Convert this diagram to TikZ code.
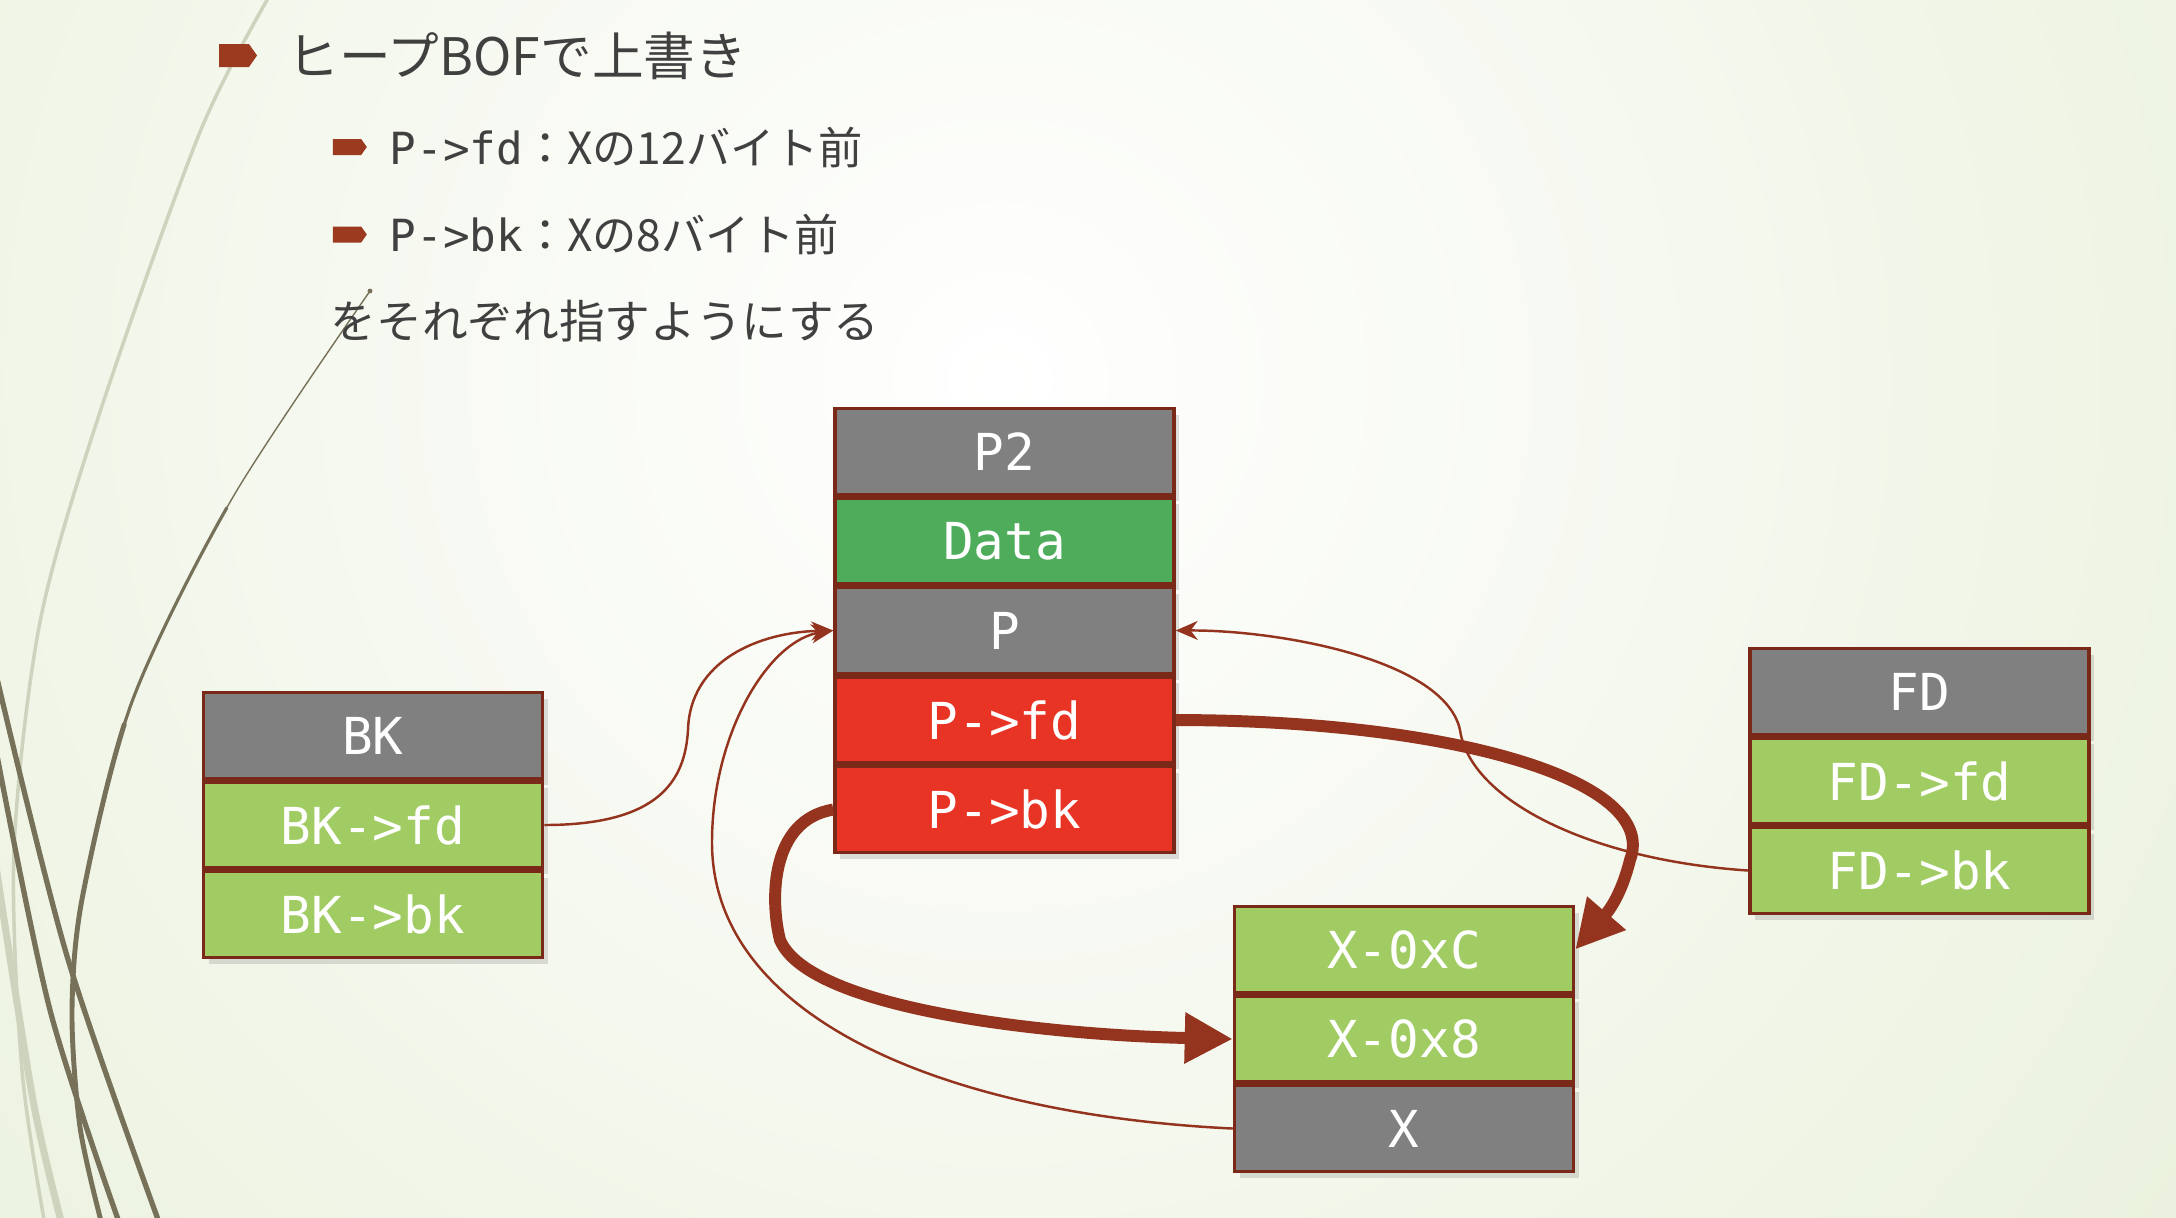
\documentclass[tikz,border=0pt]{standalone}
\usepackage{fontspec}
\newfontfamily\jpfont{Noto Sans CJK JP}
\newfontfamily\cellfont{DejaVu Sans Mono}
\usetikzlibrary{positioning,arrows.meta,shapes.symbols,shadows}
\definecolor{bgout}{RGB}{224,234,204}
\definecolor{deco}{RGB}{118,113,88}
\definecolor{decolt}{RGB}{206,211,190}
\definecolor{cellborder}{RGB}{122,40,24}
\definecolor{linkcol}{RGB}{148,52,30}
\definecolor{bulcol}{RGB}{155,58,30}
\definecolor{txtcol}{RGB}{64,64,64}
\definecolor{cgray}{RGB}{128,128,128}
\definecolor{cdata}{RGB}{78,172,91}
\definecolor{clime}{RGB}{160,204,99}
\definecolor{cred}{RGB}{232,52,36}
\tikzset{
  cell/.style={draw=cellborder,line width=1pt,minimum width=3.39cm,minimum height=.86cm,
    inner sep=0pt,text=white,font=\cellfont\fontsize{14.5}{16}\selectfont,
    drop shadow={shadow xshift=.05cm,shadow yshift=-.06cm,opacity=.25}},
  bulmark/.style={shape=signal,signal to=east,signal pointer angle=110,fill=bulcol,inner sep=0pt},
  line1/.style={anchor=west,text=txtcol,inner sep=0pt,font=\jpfont\fontsize{14.7}{18}\selectfont},
  line2/.style={anchor=west,text=txtcol,inner sep=0pt,font=\jpfont\fontsize{12.6}{15}\selectfont},
  thinlink/.style={draw=linkcol,line width=.7pt,-{Stealth[length=2.2mm,width=1.9mm]}},
  fatlink/.style={draw=linkcol,line width=3.4pt,-{Triangle[length=4.8mm,width=4.8mm]}}
}
\begin{document}
\begin{tikzpicture}[x=1cm,y=-1cm]
\useasboundingbox (0,0) rectangle (21.76,12.18);
\begin{scope}
\clip (0,0) rectangle (21.76,12.18);
\shade[inner color=white,outer color=bgout] (10,3.8) circle (22);
\draw[decolt,line width=1pt] plot[smooth] coordinates {(2.70,-.05) (2.0,1.32) (1.0,4.12) (0.40,6.22) (0.14,8.5) (0.22,10.7) (0.45,12.25)};
\draw[decolt,line width=2pt] plot[smooth] coordinates {(-0.05,8.6) (0.33,11.0) (0.62,12.25)};
\draw[deco,line width=1.5pt] plot[smooth] coordinates {(-0.05,6.7) (0.67,9.56) (1.60,12.25)};
\draw[deco,line width=1.5pt] plot[smooth] coordinates {(-0.05,7.45) (0.50,10.10) (1.20,12.25)};
\foreach \w/\skip in {.4pt/0cm,.9pt/2.6cm,1.4pt/5cm}
  \draw[deco,line width=\w,line cap=round,dash pattern=on 0pt off \skip on 30cm] plot[smooth] coordinates {(3.70,2.91) (2.33,4.97) (1.33,6.99) (0.83,8.94) (0.72,10.1) (0.80,11.27) (1.02,12.25)};
\end{scope}
\node[bulmark,minimum width=.38cm,minimum height=.23cm] (b1) at (2.34,.555) {};
\node[bulmark,minimum width=.34cm,minimum height=.16cm] (b2) at (3.47,1.47) {};
\node[bulmark,minimum width=.34cm,minimum height=.16cm] (b3) at (3.47,2.345) {};
\node[line1] (t1) at (2.87,.56) {ヒープBOFで上書き};
\node[line2] (t2) at (3.89,1.47) {{\cellfont P->fd}：Xの12バイト前};
\node[line2] (t3) at (3.89,2.345) {{\cellfont P->bk}：Xの8バイト前};
\node[line2,font=\jpfont\fontsize{13}{15}\selectfont] (t4) at (3.30,3.21) {をそれぞれ指すようにする};
\node[cell,fill=cgray] (p2) at (10.045,4.515) {P2};
\node[cell,fill=cdata,below=0pt of p2] (data) {Data};
\node[cell,fill=cgray,below=0pt of data] (p) {P};
\node[cell,fill=cred,below=0pt of p] (pfd) {P->fd};
\node[cell,fill=cred,below=0pt of pfd] (pbk) {P->bk};
\node[cell,fill=cgray] (bk) at (3.73,7.355) {BK};
\node[cell,fill=clime,below=0pt of bk] (bkfd) {BK->fd};
\node[cell,fill=clime,below=0pt of bkfd] (bkbk) {BK->bk};
\node[cell,fill=cgray] (fd) at (19.195,6.915) {FD};
\node[cell,fill=clime,below=0pt of fd] (fdfd) {FD->fd};
\node[cell,fill=clime,below=0pt of fdfd] (fdbk) {FD->bk};
\node[cell,fill=clime] (xc) at (14.04,9.495) {X-0xC};
\node[cell,fill=clime,below=0pt of xc] (x8) {X-0x8};
\node[cell,fill=cgray,below=0pt of x8] (xx) {X};
\draw[fatlink] (pfd.east) .. controls (14.5,7.2) and (16.6,7.8) .. (16.3,8.6) .. controls (16.2,9.0) and (16.05,9.15) .. (xc.east);
\draw[fatlink] (pbk.west) .. controls (7.7,8.2) and (7.7,9.0) .. (7.8,9.4) .. controls (8.1,10.1) and (10.5,10.35) .. (x8.west);
\draw[thinlink] (bkfd.east) .. controls (6.6,8.25) and (6.85,7.8) .. (6.88,7.3) .. controls (6.9,6.6) and (7.6,6.32) .. (p.west);
\draw[thinlink] (xx.west) .. controls (9.5,11.15) and (7.1,10.2) .. (7.12,8.4) .. controls (7.13,7.3) and (7.7,6.4) .. (p.west);
\draw[thinlink] (fdbk.west) .. controls (15.9,8.6) and (14.7,8.0) .. (14.6,7.3) .. controls (14.45,6.6) and (12.8,6.3) .. (p.east);
\end{tikzpicture}
\end{document}
